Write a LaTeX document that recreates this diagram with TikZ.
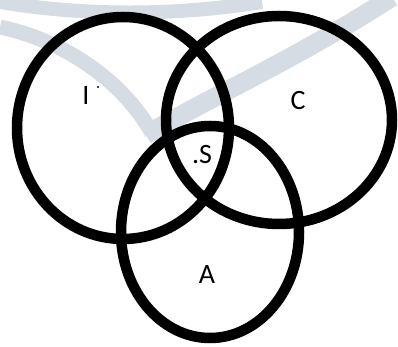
\documentclass[tikz,border=0pt]{standalone}
\usepackage{fontspec}
\setmainfont{Carlito}
\usetikzlibrary{positioning}

\definecolor{wmgray}{RGB}{214,220,228}

\begin{document}
\begin{tikzpicture}[x=1pt, y=1pt,
  ring/.style={draw=black, line width=10.5pt},
  wm/.style={draw=wmgray, line cap=butt},
  lbl/.style={inner sep=0pt, font=\fontsize{28}{32}\selectfont, text=black}]
  \useasboundingbox (0,0) rectangle (398,347);
  % faint watermark behind the sets
  \draw[wm, line width=15pt] (0,320) .. controls (70,305) and (125,262) .. (152,214);
  \draw[wm, line width=19pt] (146,212) .. controls (210,250) and (300,290) .. (392,350);
  \draw[wm, line width=14pt] (0,345) .. controls (90,330) and (180,332) .. (262,345);
  % the three sets
  \draw[ring] (123,219) ellipse [x radius=106, y radius=111];
  \draw[ring] (279,227) ellipse [x radius=113, y radius=104];
  \draw[ring] (210,115) ellipse [x radius=89, y radius=106];
  \node[lbl] (labI) at (86,251) {I};
  \fill (98,260) circle (1.2pt);
  \node[lbl] (labC) at (298,246) {C};
  \node[lbl] (labS) at (202,192) {.S};
  \node[lbl] (labA) at (207,72) {A};
\end{tikzpicture}
\end{document}
